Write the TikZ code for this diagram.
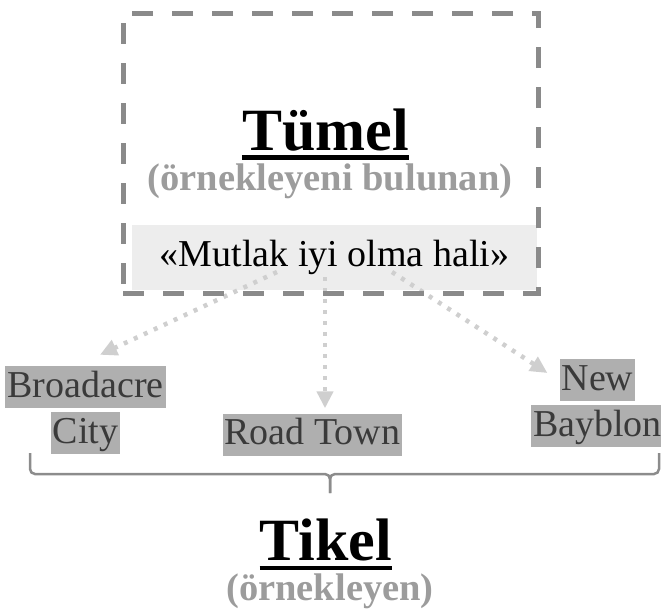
\documentclass[tikz,border=0pt]{standalone}
\usepackage{fontspec}
\setmainfont{Liberation Serif}
\usepackage{tikz}
\usetikzlibrary{arrows.meta,positioning}

\definecolor{framegray}{HTML}{8A8A8A}
\definecolor{mutlakfill}{HTML}{EDEDED}
\definecolor{flowgray}{HTML}{CFCFCF}
\definecolor{townfill}{HTML}{AFAFAF}
\definecolor{towntext}{HTML}{3A3A3A}
\definecolor{subgray}{HTML}{9C9C9C}
\definecolor{bracegray}{HTML}{8C8C8C}

\begin{document}
\begin{tikzpicture}[x=1pt,y=-1pt,
        title/.style={font=\fontsize{60}{66}\selectfont\bfseries, inner sep=0pt, anchor=base},
        subtitle/.style={font=\fontsize{38.5}{42}\selectfont\bfseries, text=subgray, inner sep=0pt, anchor=base},
        town/.style={fill=townfill, text=towntext, font=\fontsize{38}{42}\selectfont,
            inner xsep=2pt, inner ysep=0pt, text height=31pt, text depth=11pt},
        flow/.style={line width=4.5pt, color=flowgray, dash pattern=on 4pt off 7pt,
            -{Triangle[length=17pt,width=16pt]}},
        underbar/.style={line width=4.5pt}]
        \useasboundingbox (0,0) rectangle (661,611);

        % ideal state
        \node[fill=mutlakfill, minimum width=405pt, minimum height=65pt, inner sep=0pt,
            font=\fontsize{38}{42}\selectfont] (mutlak) at (334.5,257.5) {«Mutlak iyi olma hali»};

        % title of the whole
        \node[title] (tumel) at (325.5,150) {Tümel};
        \draw[underbar] ([yshift=-7.5pt]tumel.base west) -- ([yshift=-7.5pt]tumel.base east);
        \node[subtitle] (tumelsub) at (330,190) {(örnekleyeni bulunan)};

        % towns
        \node[town] (broadacre) at (85.5,387) {Broadacre};
        \node[town, below=4pt of broadacre] (city) {City};
        \node[town] (roadtown) at (312.5,434.5) {Road Town};
        \node[town] (new) at (597.5,380) {New};
        \node[town, below=4pt of new] (bayblon) {Bayblon};

        % arrows out
        \coordinate (outleft) at (277,272);
        \coordinate (outmid) at (325,277);
        \coordinate (outright) at (392,272);
        \draw[flow] (outleft) -- ([shift={(14.5pt,11pt)}]broadacre.north);
        \draw[flow] (outmid) -- ([shift={(12.5pt,5pt)}]roadtown.north);
        \draw[flow] (outright) -- ([shift={(-12pt,7pt)}]new.west);

        % dashed frame
        \node[draw=framegray, line width=5pt, dash pattern=on 21pt off 19pt,
            minimum width=415pt, minimum height=280pt] (frame) at (330.5,153) {};

        % brace
        \draw[bracegray, line width=2.5pt, rounded corners=5pt] (30,453) -- (30,474) -- (330,474) -- (330,493);
        \draw[bracegray, line width=2.5pt, rounded corners=5pt] (659,453) -- (659,474) -- (330,474) -- (330,493);

        % title of the parts
        \node[title] (tikel) at (326,560) {Tikel};
        \draw[underbar] ([yshift=-8pt]tikel.base west) -- ([yshift=-8pt]tikel.base east);
        \node[subtitle] (tikelsub) at (330,600) {(örnekleyen)};
    \end{tikzpicture}
\end{document}
